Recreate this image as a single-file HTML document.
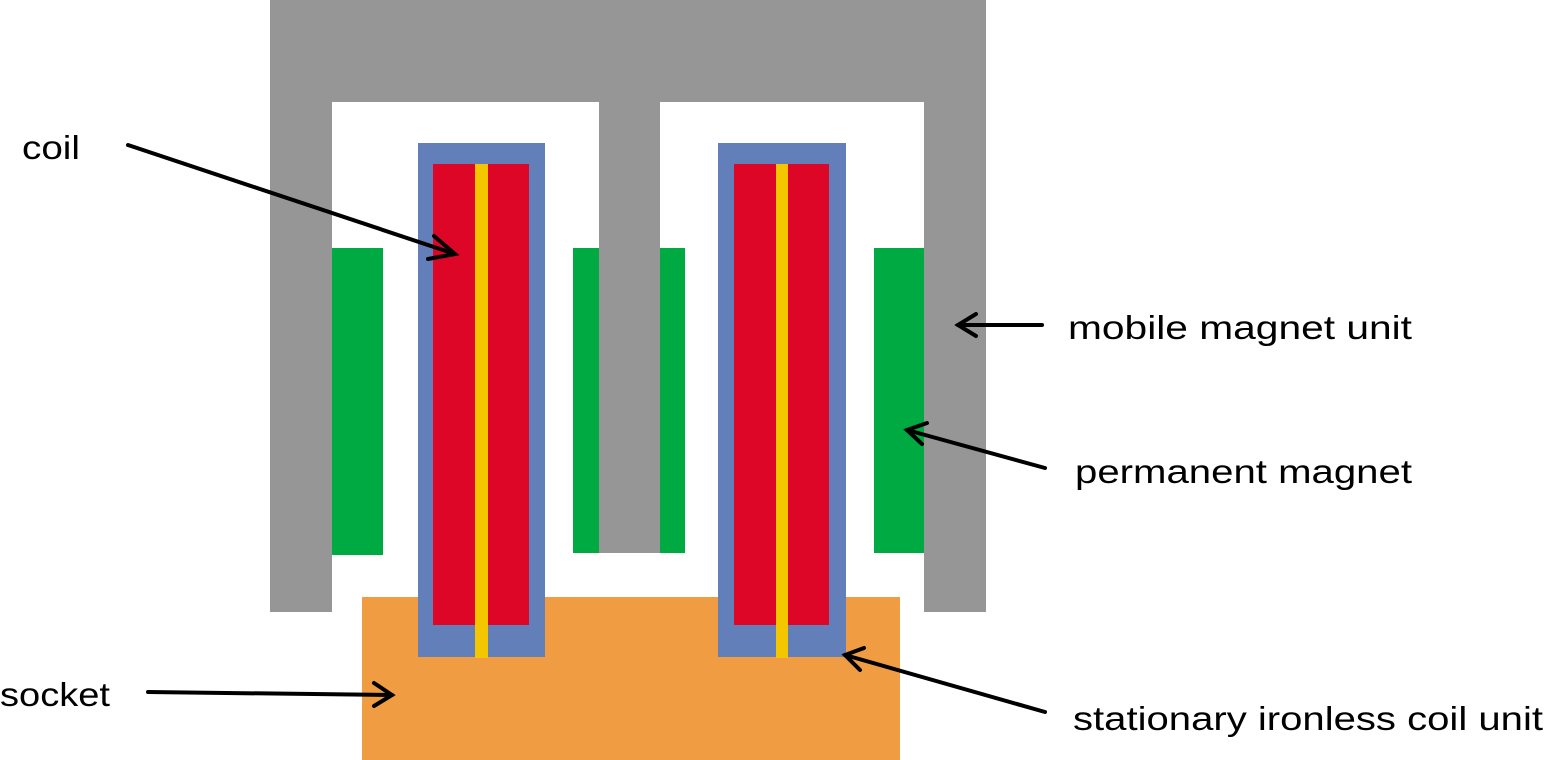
<!DOCTYPE html>
<html><head><style>
body{margin:0;background:#fff;}
svg{display:block}
text{font-family:"Liberation Sans",sans-serif;font-size:33px;fill:#000}
</style></head><body>
<svg width="1545" height="760" viewBox="0 0 1545 760">
<path d="M270 0H986V612H924V102H660V553H599V102H332V612H270Z" fill="#969696"/>
<g fill="#00aa42">
<rect x="332" y="248" width="51" height="307"/>
<rect x="573" y="248" width="26" height="305"/>
<rect x="660" y="248" width="25" height="305"/>
<rect x="874" y="248" width="50" height="305"/>
</g>
<rect x="362" y="597" width="538" height="163" fill="#f09c42"/>
<rect x="418" y="143" width="127" height="514" fill="#637fb9"/>
<rect x="718" y="143" width="128" height="514" fill="#637fb9"/>
<rect x="433" y="164" width="96" height="461" fill="#de0626"/>
<rect x="734" y="164" width="95" height="461" fill="#de0626"/>
<rect x="475" y="164" width="13" height="494" fill="#f4c600"/>
<rect x="776" y="164" width="12" height="494" fill="#f4c600"/>
<g stroke="#000" stroke-width="4" fill="none" stroke-linecap="round">
<line x1="128" y1="145" x2="455" y2="254"/><polyline points="434,236 455,254 428,259"/>
<line x1="1042" y1="325" x2="958" y2="325"/><polyline points="976,314 958,325 976,336"/>
<line x1="1045" y1="468" x2="907" y2="430"/><polyline points="927,423 907,430 922,444"/>
<line x1="148" y1="692" x2="392" y2="695"/><polyline points="374,683 392,695 374,706"/>
<line x1="1045" y1="712" x2="845" y2="655"/><polyline points="864,648 845,655 860,670"/>
</g>
<text x="22" y="159" textLength="58" lengthAdjust="spacingAndGlyphs">coil</text>
<text x="1068" y="339" textLength="344" lengthAdjust="spacingAndGlyphs">mobile magnet unit</text>
<text x="1075" y="483" textLength="337" lengthAdjust="spacingAndGlyphs">permanent magnet</text>
<text x="0" y="706" textLength="110" lengthAdjust="spacingAndGlyphs">socket</text>
<text x="1073" y="730" textLength="470" lengthAdjust="spacingAndGlyphs">stationary ironless coil unit</text>
</svg>
</body></html>
